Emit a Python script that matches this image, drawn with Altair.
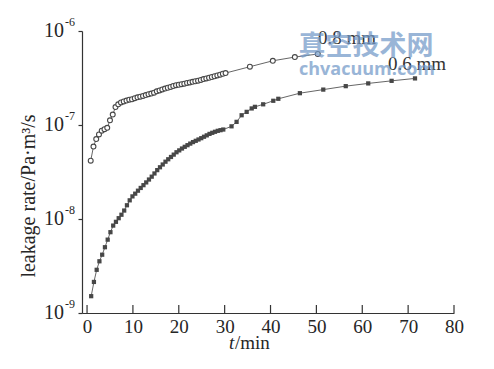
import altair as alt
import pandas as pd

# ---- data ----
t_08 = [0.8, 1.4, 2.0, 2.6, 3.2, 3.8, 4.4, 5.0, 5.6, 6.2,
        6.8, 7.4, 8.0, 8.6, 9.2, 9.8, 10.4, 11.0, 11.6, 12.2,
        12.8, 13.4, 14.0, 14.6, 15.2, 15.8, 16.4, 17.0, 17.6, 18.2,
        18.8, 19.4, 20.0, 20.6, 21.2, 21.8, 22.4, 23.0, 23.6, 24.2,
        24.8, 25.4, 26.0, 26.6, 27.2, 27.8, 28.4, 29.0, 29.6, 30.2,
        35.5, 40.5, 45.3, 50.3]
v_08 = [4.17e-8, 5.89e-8, 7.08e-8, 7.94e-8, 8.71e-8, 9.02e-8, 9.33e-8, 1.12e-7, 1.29e-7, 1.55e-7,
        1.66e-7, 1.74e-7, 1.78e-7, 1.82e-7, 1.86e-7, 1.88e-7, 1.93e-7, 1.97e-7, 2.00e-7, 2.04e-7,
        2.08e-7, 2.13e-7, 2.16e-7, 2.21e-7, 2.28e-7, 2.33e-7, 2.39e-7, 2.44e-7, 2.49e-7, 2.54e-7,
        2.60e-7, 2.65e-7, 2.68e-7, 2.72e-7, 2.75e-7, 2.80e-7, 2.84e-7, 2.88e-7, 2.92e-7, 2.96e-7,
        3.02e-7, 3.08e-7, 3.13e-7, 3.18e-7, 3.24e-7, 3.30e-7, 3.37e-7, 3.43e-7, 3.51e-7, 3.57e-7,
        4.17e-7, 4.82e-7, 5.28e-7, 5.69e-7]

t_06 = [0.9, 1.5, 2.1, 2.7, 3.3, 3.9, 4.5, 5.1, 5.7, 6.3,
        6.9, 7.5, 8.1, 8.7, 9.3, 9.9, 10.5, 11.1, 11.7, 12.3,
        12.9, 13.5, 14.1, 14.7, 15.3, 15.9, 16.5, 17.1, 17.7, 18.3,
        18.9, 19.5, 20.1, 20.7, 21.3, 21.9, 22.5, 23.1, 23.7, 24.3,
        24.9, 25.5, 26.1, 26.7, 27.3, 27.9, 28.5, 29.1, 29.7,
        31.5, 32.6, 33.7, 34.8, 35.9, 36.6, 38.4, 40.6, 41.7, 46.4,
        51.5, 56.4, 61.3, 66.4, 71.5]
v_06 = [1.51e-9, 2.14e-9, 2.88e-9, 3.55e-9, 4.17e-9, 5.01e-9, 6.03e-9, 7.24e-9, 8.51e-9, 9.33e-9,
        1.02e-8, 1.11e-8, 1.23e-8, 1.40e-8, 1.58e-8, 1.74e-8, 1.86e-8, 2.00e-8, 2.14e-8, 2.29e-8,
        2.45e-8, 2.63e-8, 2.82e-8, 3.05e-8, 3.31e-8, 3.55e-8, 3.80e-8, 4.07e-8, 4.32e-8, 4.57e-8,
        4.84e-8, 5.13e-8, 5.37e-8, 5.62e-8, 5.86e-8, 6.10e-8, 6.34e-8, 6.58e-8, 6.79e-8, 7.01e-8,
        7.24e-8, 7.50e-8, 7.76e-8, 8.04e-8, 8.26e-8, 8.47e-8, 8.67e-8, 8.81e-8, 8.95e-8,
        9.68e-8, 1.08e-7, 1.27e-7, 1.38e-7, 1.50e-7, 1.56e-7, 1.66e-7, 1.81e-7, 1.90e-7, 2.18e-7,
        2.38e-7, 2.59e-7, 2.77e-7, 2.95e-7, 3.13e-7]

x_ticks = [0, 10, 20, 30, 40, 50, 60, 70, 80]
y_ticks = [1e-9, 1e-8, 1e-7, 1e-6]
y_exps = ["-9", "-8", "-7", "-6"]
series_labels = ["0.8 mm", "0.6 mm"]
y_title = "leakage rate/Pa\u00b7m\u00b3/s"

# ---- layout ----
W, H = 372, 282
SERIF = "Liberation Serif"
INK = "#262626"
CURVE = "#474747"

df08 = pd.DataFrame({"t": t_08, "v": v_08})
df06 = pd.DataFrame({"t": t_06, "v": v_06})
dfx = pd.DataFrame({"t": x_ticks})
dfy = pd.DataFrame({"v": y_ticks, "e": y_exps})
one = pd.DataFrame({"k": [0]})

xs = alt.Scale(domain=[-1.1, 80], nice=False, zero=False)
ys = alt.Scale(type="log", domain=[1e-9, 1e-6], nice=False)

x_axis = alt.Axis(values=x_ticks, ticks=False, grid=False, labelFont=SERIF,
                  labelFontSize=19, labelColor=INK, labelPadding=4,
                  domainColor="#333", domainWidth=1.2, title=None, labelFlush=False)
y_axis = alt.Axis(values=y_ticks, labels=False, grid=False, tickSize=4,
                  tickColor="#333", tickWidth=1.2, domainColor="#333",
                  domainWidth=1.2, title=None)

line08 = alt.Chart(df08).mark_line(color="#555", strokeWidth=0.9).encode(
    x=alt.X("t:Q", scale=xs, axis=x_axis),
    y=alt.Y("v:Q", scale=ys, axis=y_axis),
)
pts08 = alt.Chart(df08).mark_point(shape="circle", fill="white", filled=False,
                                   stroke=CURVE, strokeWidth=1.1, size=24, opacity=1).encode(
    x=alt.X("t:Q", scale=xs), y=alt.Y("v:Q", scale=ys))

line06 = alt.Chart(df06).mark_line(color="#555", strokeWidth=0.9).encode(
    x=alt.X("t:Q", scale=xs), y=alt.Y("v:Q", scale=ys))
pts06 = alt.Chart(df06).mark_square(color=CURVE, size=18, opacity=1).encode(
    x=alt.X("t:Q", scale=xs), y=alt.Y("v:Q", scale=ys))

# inward x ticks
xtick = alt.Chart(dfx).mark_rule(color="#333", strokeWidth=1.2).encode(
    x=alt.X("t:Q", scale=xs), y=alt.value(H), y2=alt.value(H - 8))

# y tick labels 10^n
ylab10 = alt.Chart(dfy).mark_text(font=SERIF, fontSize=20, color=INK, align="right",
                                  baseline="middle").encode(
    y=alt.Y("v:Q", scale=ys), x=alt.value(-18), text=alt.value("10"))
ylabexp = alt.Chart(dfy).mark_text(font=SERIF, fontSize=12, color=INK, align="left",
                                   baseline="middle", dy=-9).encode(
    y=alt.Y("v:Q", scale=ys), x=alt.value(-17), text="e:N")

# axis titles
ytitle = alt.Chart(one).mark_text(font=SERIF, fontSize=20, color=INK, angle=270,
                                  align="center", baseline="middle").encode(
    x=alt.value(-53), y=alt.value(165), text=alt.value(y_title))
xt1 = alt.Chart(one).mark_text(font=SERIF, fontSize=19, color=INK, fontStyle="italic",
                               align="left", baseline="middle").encode(
    x=alt.value(147), y=alt.value(312), text=alt.value("t"))
xt2 = alt.Chart(one).mark_text(font=SERIF, fontSize=19, color=INK,
                               align="left", baseline="middle").encode(
    x=alt.value(153), y=alt.value(312), text=alt.value("/min"))

# curve labels
lab08 = alt.Chart(one).mark_text(font=SERIF, fontSize=19, color="#333",
                                 align="left", baseline="middle").encode(
    x=alt.value(236), y=alt.value(7), text=alt.value(series_labels[0]))
lab06 = alt.Chart(one).mark_text(font=SERIF, fontSize=19, color="#333",
                                 align="left", baseline="middle").encode(
    x=alt.value(306), y=alt.value(33), text=alt.value(series_labels[1]))

# watermark
wm1 = alt.Chart(one).mark_text(font="Noto Sans CJK SC", fontWeight="bold", fontSize=27,
                               color="#7299c8", opacity=0.72, align="center",
                               baseline="middle").encode(
    x=alt.value(284), y=alt.value(16), text=alt.value("真空技术网"))
wm2 = alt.Chart(one).mark_text(font="Open Sans", fontWeight="bold", fontSize=18,
                               color="#7299c8", opacity=0.72, align="center",
                               baseline="middle").encode(
    x=alt.value(285), y=alt.value(39), text=alt.value("chvacuum.com"))

chart = alt.layer(
    line08, line06, pts06, pts08, xtick, ylab10, ylabexp,
    ytitle, xt1, xt2, lab08, lab06, wm1, wm2
).properties(
    width=W, height=H,
    autosize=alt.AutoSizeParams(type="none"),
    padding={"left": 74, "top": 23, "right": 32, "bottom": 48},
    background="white",
).configure_view(stroke=None)

chart.save("out.html", embed_options={"renderer": "svg", "actions": False})
